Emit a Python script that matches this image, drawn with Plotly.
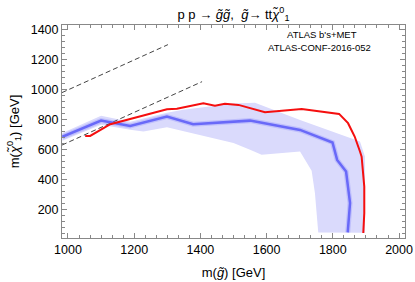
import plotly.graph_objects as go

# observed limit (red)
obs_mg = [1052, 1067, 1128, 1299, 1329, 1409, 1444, 1474, 1515, 1595, 1706,
          1819, 1846, 1866, 1882, 1887, 1895, 1895, 1892]
obs_mchi = [693, 693, 771, 871, 875, 911, 895, 907, 900, 851, 873,
            840, 778, 689, 589, 555, 355, 178, 45]

# expected limit (blue)
exp_mg = [983, 1100, 1188, 1299, 1378, 1550, 1701, 1799, 1813, 1840, 1852, 1845]
exp_mchi = [687, 795, 760, 822, 771, 795, 733, 649, 533, 455, 245, 49]

# 1 sigma band around expected
band_up_mg = [983, 1100, 1188, 1299, 1348, 1500, 1565, 1701, 1882, 1897, 1897]
band_up_mchi = [713, 827, 787, 847, 867, 910, 915, 800, 655, 555, 47]
band_lo_mg = [983, 1100, 1188, 1228, 1299, 1500, 1550, 1585, 1701, 1736, 1746, 1756]
band_lo_mchi = [660, 767, 735, 722, 751, 645, 600, 567, 589, 460, 311, 49]

# kinematic lines
diag_mg = [982, 1302]
diag_mchi = [982, 1302]
kin_mg = [982, 1405]
kin_mchi = [632, 1055]

FONT = "Liberation Sans, Arial, sans-serif"

fig = go.Figure()

# band polygon: upper edge then lower edge reversed
fig.add_trace(go.Scatter(x=band_up_mg + band_lo_mg[::-1],
                         y=band_up_mchi + band_lo_mchi[::-1],
                         fill="toself", fillcolor="rgb(218,218,252)",
                         line=dict(width=0), mode="lines", hoverinfo="skip"))

fig.add_trace(go.Scatter(x=diag_mg, y=diag_mchi, mode="lines",
                         line=dict(color="#444", width=1, dash="5px,3px")))
fig.add_trace(go.Scatter(x=kin_mg, y=kin_mchi, mode="lines",
                         line=dict(color="#444", width=1, dash="5px,3px")))

fig.add_trace(go.Scatter(x=exp_mg, y=exp_mchi, mode="lines",
                         line=dict(color="rgba(110,110,250,0.25)", width=5)))
fig.add_trace(go.Scatter(x=exp_mg, y=exp_mchi, mode="lines",
                         line=dict(color="rgb(105,105,248)", width=2.5)))
fig.add_trace(go.Scatter(x=obs_mg, y=obs_mchi, mode="lines",
                         line=dict(color="rgb(245,15,15)", width=2)))

fig.add_annotation(x=1767, y=1367, text="ATLAS b's+MET", showarrow=False,
                   font=dict(family=FONT, size=9.5, color="black"))
fig.add_annotation(x=1761, y=1280, text="ATLAS-CONF-2016-052", showarrow=False,
                   font=dict(family=FONT, size=9.5, color="black"))

axis_common = dict(showgrid=False, zeroline=False, showline=True, linecolor="#888",
                   linewidth=1, mirror="allticks", ticks="inside", ticklen=5,
                   tickcolor="#888", automargin=False, ticklabeloverflow="allow",
                   tickfont=dict(family=FONT, size=12.5, color="black"))

fig.update_layout(
    template="none",
    width=415, height=282,
    margin=dict(l=62, r=10, t=25, b=44),
    plot_bgcolor="white", paper_bgcolor="white",
    showlegend=False,
    title=dict(text="p p → <i>g̃g̃</i>,  <i>g̃</i>→ tt<i>χ̃</i><sup>0</sup><sub>1</sub>",
               x=233.5 / 415, xanchor="center", y=0.95, yanchor="middle",
               font=dict(family=FONT, size=13, color="black")),
    xaxis=dict(range=[982, 2018], tick0=1000, dtick=200,
               minor=dict(ticks="inside", ticklen=3, tickcolor="#888", dtick=200 / 6),
               title=dict(text="m(<i>g̃</i>) [GeV]", standoff=11,
                          font=dict(family=FONT, size=13, color="black")),
               **axis_common),
    yaxis=dict(range=[12, 1433], tickvals=[200, 400, 600, 800, 1000, 1200, 1400],
               minor=dict(ticks="inside", ticklen=3, tickcolor="#888", dtick=40),
               title=dict(text="m(<i>χ̃</i><sup>0</sup><sub>1</sub>) [GeV]", standoff=8,
                          font=dict(family=FONT, size=13, color="black")),
               **axis_common),
)

# drop the page's default body margin so the figure sits at the window corner
fig.write_html("out.html", config={"displayModeBar": False},
               post_script="document.body.style.margin='0px';")
